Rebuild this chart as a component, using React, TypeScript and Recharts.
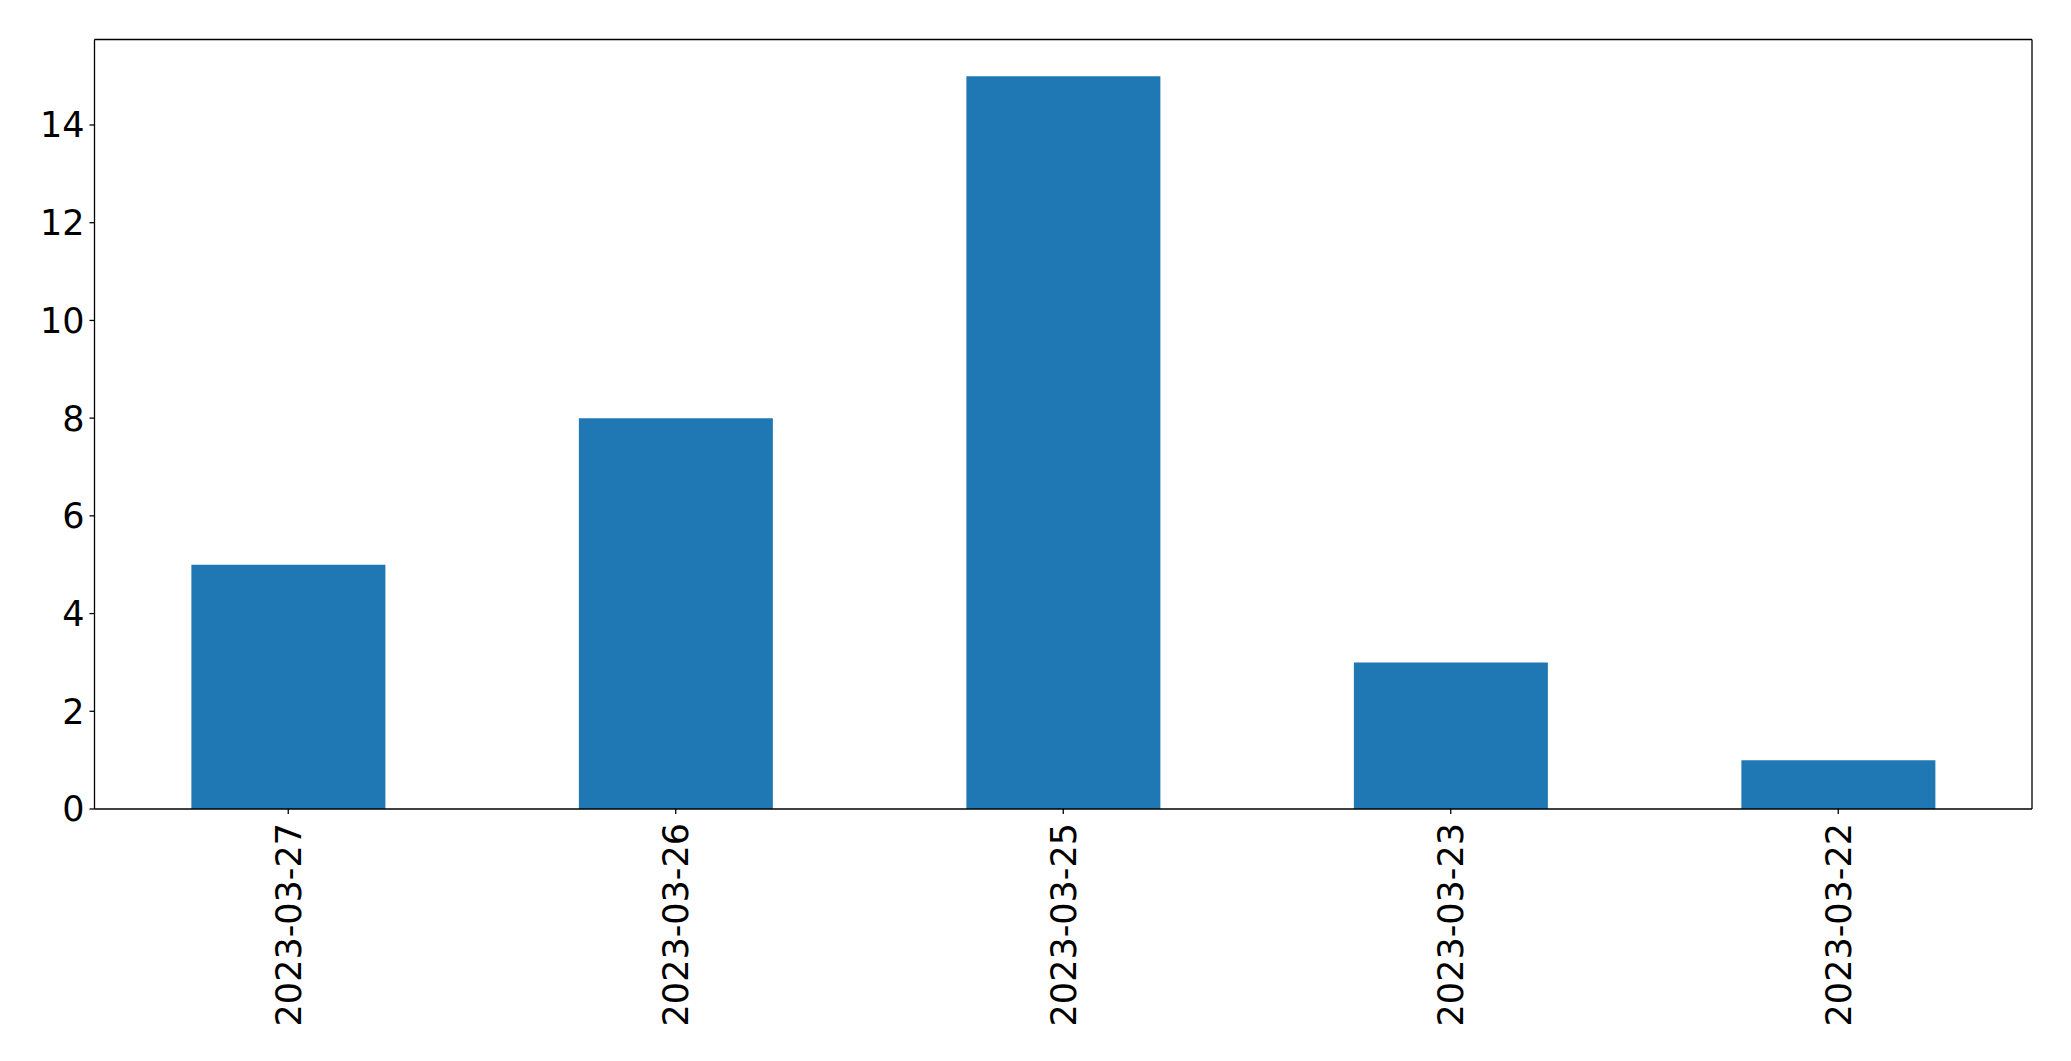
import { BarChart, Bar, XAxis, YAxis, ReferenceLine } from 'recharts';

const dates = ['2023-03-27', '2023-03-26', '2023-03-25', '2023-03-23', '2023-03-22'];
const counts = [5, 8, 15, 3, 1];
const yTicks = [0, 2, 4, 6, 8, 10, 12, 14];
const xTicks = [0, 1, 2, 3, 4];

const FONT = '"DejaVu Sans", sans-serif';
const FONT_SIZE = 35;
const Y_MAX = 15.75;

const data = dates.map((d, i) => ({ idx: i, date: d, count: counts[i] }));

function DateTick({ x, y, payload }: any) {
  const ty = y + 7;
  return (
    <text
      x={x}
      y={ty}
      transform={`rotate(-90, ${x}, ${ty})`}
      textAnchor="end"
      dy="0.36em"
      fontFamily={FONT}
      fontSize={FONT_SIZE}
      fill="#000"
    >
      {dates[payload.value]}
    </text>
  );
}

const frame = { stroke: '#000', strokeWidth: 1.3 };

export default function App() {
  return (
    <div style={{ position: 'absolute', left: 0, top: 0, width: 2071, height: 1061, background: '#fff' }}>
      <BarChart
        width={2071}
        height={1061}
        data={data}
        margin={{ top: 39.5, right: 39, bottom: 0, left: 0 }}
        barCategoryGap="25%"
      >
        <XAxis
          dataKey="idx"
          type="number"
          domain={[-0.5, 4.5]}
          ticks={xTicks}
          interval={0}
          height={252}
          stroke="#000"
          tick={<DateTick />}
          tickLine={frame}
          tickSize={5}
          axisLine={frame}
        />
        <YAxis
          width={94.5}
          domain={[0, Y_MAX]}
          ticks={yTicks}
          interval={0}
          stroke="#000"
          tickSize={5}
          tickMargin={5}
          tick={{ fontFamily: FONT, fontSize: FONT_SIZE, fill: '#000' }}
          tickLine={frame}
          axisLine={frame}
        />
        <Bar dataKey="count" fill="#1f77b4" isAnimationActive={false} />
        <ReferenceLine y={Y_MAX} {...frame} />
        <ReferenceLine x={4.5} {...frame} />
      </BarChart>
    </div>
  );
}
